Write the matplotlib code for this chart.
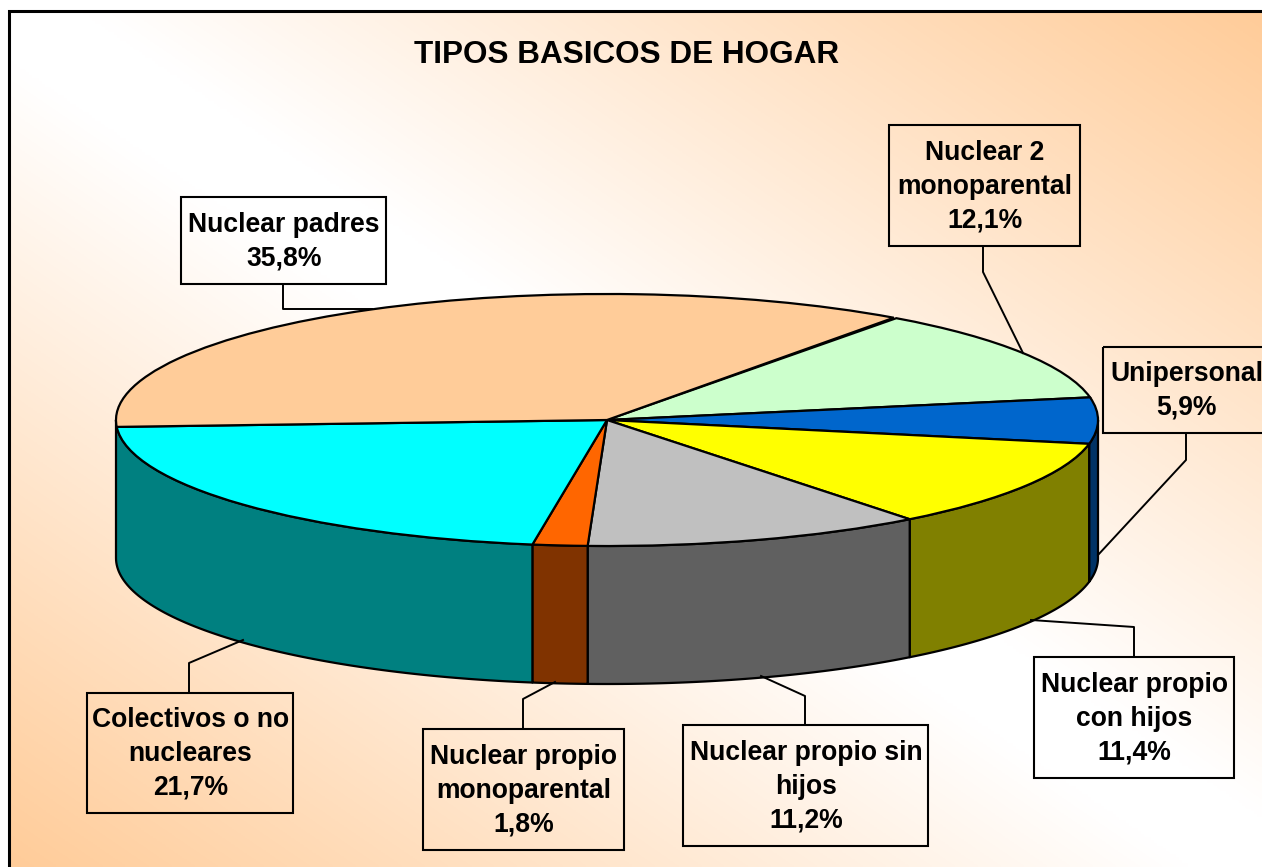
import numpy as np
import matplotlib
matplotlib.use("Agg")
import matplotlib.pyplot as plt
from matplotlib.patches import Wedge, Polygon, Rectangle
from matplotlib.transforms import Affine2D

plt.rcParams["font.family"] = ["Liberation Sans", "DejaVu Sans"]

# =========================
# DATOS
# =========================
titulo = "TIPOS BASICOS DE HOGAR"
categorias = [
    "Nuclear 2\nmonoparental",
    "Unipersonal",
    "Nuclear propio\ncon hijos",
    "Nuclear propio sin\nhijos",
    "Nuclear propio\nmonoparental",
    "Colectivos o no\nnucleares",
    "Nuclear padres",
]
valores = [12.1, 5.9, 11.4, 11.2, 1.8, 21.7, 35.8]
etiquetas_valor = ["12,1%", "5,9%", "11,4%", "11,2%", "1,8%", "21,7%", "35,8%"]

# =========================
# ESTILO Y POSICIONES
# =========================
color_arriba = ["#CCFFCC", "#0066CC", "#FFFF00", "#C0C0C0", "#FF6600", "#00FFFF", "#FFCC99"]
color_lado = ["#99CC99", "#003366", "#808000", "#606060", "#803300", "#008080", "#C09060"]

# cajas: x0, x1, y0, y1 en pixeles
cajas = [
    (889, 1080, 125, 246),
    (1103, 1269, 347, 433),
    (1034, 1234, 657, 778),
    (683, 928, 725, 846),
    (423, 624, 729, 850),
    (87, 293, 693, 813),
    (181, 386, 197, 284),
]
lineas_guia = [
    [(983, 246), (983, 272), (1023, 353)],
    [(1186, 433), (1186, 460), (1098, 555)],
    [(1031, 620), (1134, 627), (1134, 657)],
    [(761, 676), (805, 696), (805, 725)],
    [(555, 682), (523, 699), (523, 729)],
    [(243, 640), (189, 663), (189, 693)],
    [(283, 284), (283, 309), (372, 309)],
]

W, H = 1262, 867
CX, CY, RX, RY = 607, 420, 491, 126
ALTO = 138
INICIO = 53.9
LW = 1.6

fig = plt.figure(figsize=(W / 100, H / 100), dpi=100)
ax = fig.add_axes([0, 0, 1, 1])

# =========================
# FONDO
# =========================
xx, yy = np.meshgrid(np.linspace(0, 1, 400), np.linspace(0, 1, 300))
t = np.clip((np.abs(xx - yy) - 0.06) / 0.94, 0, 1)[..., None]
blanco = np.array([1.0, 1.0, 1.0])
durazno = np.array([1.0, 0.8, 0.6])
ax.imshow(blanco + (durazno - blanco) * t, extent=(9, W, H, 11), aspect="auto", zorder=0)
ax.plot([9, 9, W + 5], [H + 5, 11, 11], color="black", lw=2.2, zorder=1, solid_joinstyle="miter")

ax.set_xlim(0, W)
ax.set_ylim(H, 0)
ax.axis("off")

# =========================
# TORTA
# =========================
angulos = INICIO - np.cumsum([0] + valores) * 3.6
elipse = Affine2D().scale(RX, -RY).translate(CX, CY) + ax.transData

for i in range(len(valores)):
    a1, a2 = angulos[i], angulos[i + 1]
    # solo la parte de adelante se ve
    ini = max(a2, -180)
    fin = min(a1, 0)
    if i == 5:
        ini = -180  # el borde de la izquierda lo cierra este lado
    if fin > ini and i != len(valores) - 1:
        th = np.radians(np.linspace(fin, ini, 80))
        x = CX + RX * np.cos(th)
        y = CY - RY * np.sin(th)
        pts = np.r_[np.c_[x, y], np.c_[x[::-1], y[::-1] + ALTO]]
        ax.add_patch(Polygon(pts, closed=True, facecolor=color_lado[i], edgecolor="black",
                             lw=LW, zorder=2, joinstyle="round"))

for i in range(len(valores)):
    ax.add_patch(Wedge((0, 0), 1, angulos[i + 1], angulos[i], transform=elipse,
                       facecolor=color_arriba[i], edgecolor="black", lw=LW, zorder=3))

# =========================
# TEXTOS
# =========================
ax.text(627, 55, titulo, ha="center", va="center", fontsize=22.7, fontweight="bold", zorder=6)

for i in range(len(categorias)):
    x0, x1, y0, y1 = cajas[i]
    ax.add_patch(Rectangle((x0, y0), x1 - x0, y1 - y0, fill=False, edgecolor="black", lw=1.5, zorder=5))
    gx, gy = zip(*lineas_guia[i])
    ax.plot(gx, gy, color="black", lw=1.4, zorder=4)
    ax.text((x0 + x1) / 2 + 0.5, (y0 + y1) / 2 + 1, categorias[i] + "\n" + etiquetas_valor[i],
            ha="center", va="center", fontsize=19.1, fontweight="bold", linespacing=1.38, zorder=6)

fig.savefig("out.png", dpi=100)
